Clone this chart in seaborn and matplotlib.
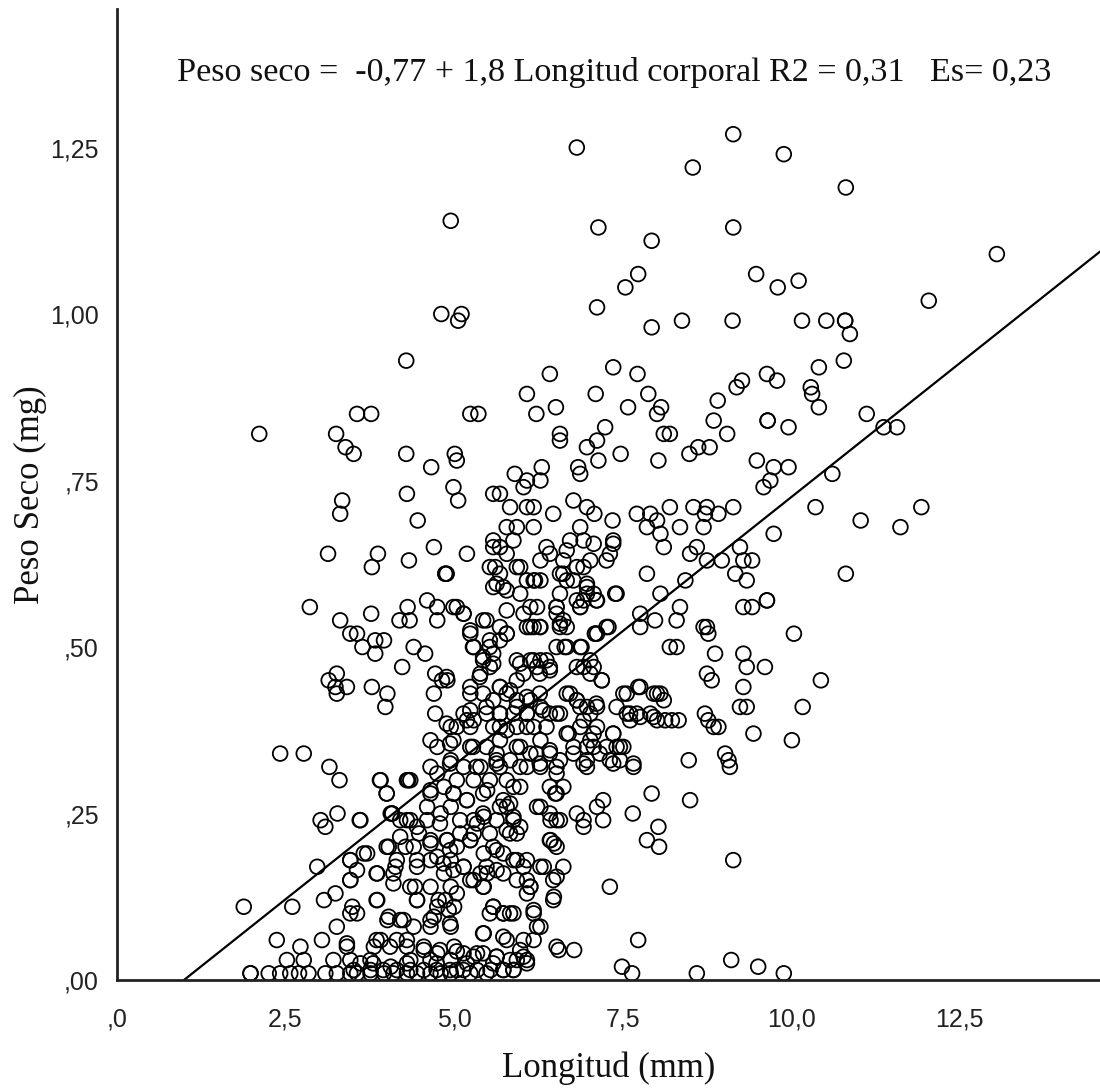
import numpy as np
import pandas as pd
import matplotlib
matplotlib.use("Agg")
import matplotlib.pyplot as plt
import seaborn as sns

# ---------------- data ----------------
# upper-left region
long_a = [4.95, 4.81, 5.06, 5.11, 4.29, 3.56, 3.77, 2.11, 3.25, 3.39, 3.51, 4.29, 4.66, 3.34, 3.31, 4.30, 4.46]
peso_a = [1.14, 1.00, 0.99, 1.00, 0.93, 0.85, 0.85, 0.82, 0.82, 0.80, 0.79, 0.79, 0.77, 0.72, 0.70, 0.73, 0.69]

# lower-left region
long_b = [3.13, 3.87, 3.78, 4.33, 4.70, 4.87, 4.87,
          2.86, 3.31, 3.77, 4.31, 4.60, 4.75, 4.19, 4.34, 4.75,
          3.46, 3.56, 3.64, 3.83, 3.96, 3.83, 4.40, 4.57, 4.23,
          3.14, 3.26, 3.41, 3.26, 3.24, 3.78, 4.01, 3.98,
          4.72, 4.82, 4.90, 4.70, 4.72, 4.95, 4.65, 4.75,
          2.42, 2.77, 3.15, 3.30, 3.91, 4.00, 4.35, 4.30, 4.65, 4.95, 4.75, 4.65, 4.85,
          3.02, 3.09, 3.27, 3.60, 4.06, 4.08, 4.20, 4.35, 4.60, 4.80, 4.95,
          4.48, 4.65, 4.90, 4.03, 4.28, 4.75, 3.66, 3.46, 2.97, 3.56, 4.15, 4.45, 4.95,
          3.46, 3.86, 4.10, 4.35, 4.65, 4.85, 4.95,
          3.07, 3.24, 2.60, 1.88, 3.49, 3.86, 4.45, 4.75, 4.87,
          3.56, 3.26, 4.01, 4.20, 4.40, 4.65, 4.95,
          2.37, 2.72, 3.04, 3.41, 3.81, 3.91, 4.15, 4.30, 4.55, 4.75,
          2.52, 2.77, 3.21, 3.46, 3.76, 4.06, 4.35, 4.65, 4.95,
          1.98, 1.98, 2.25, 2.42, 2.57, 2.70, 2.84, 3.09, 3.26, 3.46, 3.56, 3.76, 3.96, 4.10,
          4.30, 4.45, 4.65, 4.80, 4.95]
peso_b = [0.64, 0.64, 0.62, 0.63, 0.65, 0.61, 0.61,
          0.56, 0.54, 0.55, 0.56, 0.57, 0.56, 0.54, 0.54, 0.54,
          0.52, 0.52, 0.50, 0.51, 0.51, 0.49, 0.50, 0.49, 0.47,
          0.45, 0.46, 0.44, 0.43, 0.44, 0.44, 0.43, 0.41,
          0.46, 0.45, 0.45, 0.43, 0.40, 0.38, 0.36, 0.35,
          0.34, 0.34, 0.32, 0.30, 0.30, 0.28, 0.30, 0.30, 0.32, 0.33, 0.31, 0.28, 0.29,
          0.24, 0.23, 0.25, 0.24, 0.25, 0.25, 0.24, 0.24, 0.26, 0.25, 0.26,
          0.22, 0.21, 0.21, 0.20, 0.20, 0.185, 0.19, 0.18, 0.17, 0.165, 0.18, 0.17, 0.18,
          0.15, 0.16, 0.16, 0.14, 0.14, 0.16, 0.14,
          0.12, 0.13, 0.11, 0.11, 0.11, 0.12, 0.12, 0.11, 0.12,
          0.10, 0.08, 0.09, 0.09, 0.08, 0.09, 0.08,
          0.06, 0.05, 0.06, 0.05, 0.05, 0.06, 0.06, 0.05, 0.05, 0.04,
          0.03, 0.03, 0.03, 0.03, 0.03, 0.02, 0.03, 0.03, 0.03,
          0.01, 0.01, 0.01, 0.01, 0.01, 0.01, 0.01, 0.01, 0.01, 0.01, 0.01, 0.01, 0.01, 0.01,
          0.01, 0.01, 0.01, 0.01, 0.01]

# upper-middle region
long_c = [6.82, 9.14, 9.89, 8.54, 7.14, 9.14, 7.93, 7.73, 7.54, 9.48, 9.80, 7.12, 7.93, 8.38, 9.13,
          7.36, 6.42, 7.72, 6.08, 7.10, 7.88, 6.22, 6.51, 5.24, 5.36, 7.58, 8.07, 8.01,
          6.57, 6.57, 7.24, 6.97, 7.12, 7.47, 7.14, 8.11, 8.20, 8.03, 8.49, 8.62, 8.79, 8.85, 8.91,
          9.05, 9.19, 9.27, 9.64, 9.79, 9.65, 9.65, 9.96,
          9.49, 9.74, 9.69, 9.59, 9.96,
          5.01, 5.04, 4.99, 5.06,
          5.90, 6.30, 6.08, 6.28, 6.03, 5.58, 5.68, 5.83, 6.08, 6.18,
          6.84, 6.87, 6.77, 6.97, 7.08, 6.47, 7.35,
          5.78, 5.93, 6.18, 6.87,
          7.71, 7.91, 8.01, 8.20, 8.55, 8.75, 8.72, 8.92, 9.14,
          7.86, 8.06, 8.35, 8.70, 9.74,
          5.58, 5.88, 6.72, 6.92, 7.36]
peso_c = [1.25, 1.27, 1.24, 1.22, 1.13, 1.13, 1.11, 1.06, 1.04, 1.06, 1.04, 1.01, 0.98, 0.99, 0.99,
          0.92, 0.91, 0.91, 0.88, 0.88, 0.88, 0.85, 0.86, 0.85, 0.85, 0.86, 0.86, 0.85,
          0.82, 0.81, 0.83, 0.80, 0.81, 0.79, 0.78, 0.82, 0.82, 0.78, 0.79, 0.80, 0.80, 0.84, 0.87,
          0.82, 0.89, 0.90, 0.91, 0.90, 0.84, 0.84, 0.83,
          0.78, 0.77, 0.75, 0.74, 0.77,
          0.79, 0.78, 0.74, 0.72,
          0.76, 0.77, 0.75, 0.75, 0.74, 0.73, 0.73, 0.71, 0.71, 0.71,
          0.77, 0.76, 0.72, 0.71, 0.70, 0.70, 0.69,
          0.68, 0.68, 0.68, 0.68,
          0.70, 0.70, 0.69, 0.71, 0.71, 0.71, 0.70, 0.70, 0.71,
          0.68, 0.67, 0.68, 0.68, 0.67,
          0.66, 0.66, 0.66, 0.66, 0.66]

# lower-middle region, right part
long_d1 = [7.86, 8.11, 8.50, 8.60, 8.75, 8.97, 9.24, 9.29, 9.42, 9.17, 9.34, 9.64, 9.64, 9.29, 9.42,
           8.43, 8.06, 8.35, 8.30, 7.76, 7.98, 7.76, 7.41, 7.26, 7.09, 8.20, 8.30, 8.70, 8.75, 8.77,
           8.87, 9.29, 9.34, 9.61, 8.75, 8.82, 9.29, 9.24, 9.34, 9.44, 8.72, 8.77, 8.85, 8.92,
           8.48, 9.02, 9.07, 9.09, 8.50, 7.93, 7.65, 8.03, 7.86, 8.04, 9.14, 7.31, 7.73,
           6.52, 6.78, 7.49, 7.64, 8.60, 9.11, 9.51]
peso_d1 = [0.61, 0.65, 0.64, 0.65, 0.63, 0.63, 0.65, 0.63, 0.63, 0.61, 0.60, 0.57, 0.57, 0.56, 0.56,
           0.60, 0.58, 0.56, 0.54, 0.55, 0.54, 0.53, 0.58, 0.53, 0.52, 0.50, 0.50, 0.53, 0.53, 0.52,
           0.49, 0.49, 0.47, 0.47, 0.46, 0.45, 0.44, 0.41, 0.41, 0.37, 0.40, 0.39, 0.38, 0.38,
           0.33, 0.34, 0.33, 0.32, 0.27, 0.28, 0.25, 0.23, 0.21, 0.20, 0.18, 0.14, 0.06,
           0.05, 0.045, 0.02, 0.01, 0.01, 0.03, 0.02]

# lower-middle region, centre
long_d2 = [7.51, 7.73, 7.96, 8.06, 8.11, 7.41, 7.56, 7.71, 7.91, 8.01, 8.13, 8.23, 8.33, 7.61,
           7.36, 7.02, 7.07, 7.26, 7.41, 7.51, 7.31, 7.46, 7.66, 6.97, 6.97, 6.70, 7.12, 7.02,
           6.87, 6.67, 6.82, 6.57, 6.92, 7.12, 7.19, 7.07, 6.92, 6.67, 6.87, 7.12, 6.52, 7.02,
           6.57, 6.62, 6.52, 6.52, 6.57, 6.82, 6.97, 7.07, 6.87, 7.12, 6.97, 6.77, 6.57, 6.82,
           6.92, 7.02, 7.31, 7.36, 7.26, 7.07, 6.67, 6.62, 6.42, 6.28, 6.37]
peso_d2 = [0.43, 0.44, 0.43, 0.43, 0.42, 0.41, 0.40, 0.40, 0.40, 0.39, 0.39, 0.39, 0.39, 0.39,
           0.37, 0.36, 0.35, 0.35, 0.35, 0.35, 0.33, 0.33, 0.32, 0.33, 0.32, 0.37, 0.41, 0.40,
           0.41, 0.43, 0.42, 0.40, 0.39, 0.38, 0.45, 0.47, 0.47, 0.50, 0.50, 0.52, 0.50, 0.48,
           0.53, 0.54, 0.56, 0.55, 0.58, 0.57, 0.58, 0.58, 0.56, 0.57, 0.59, 0.60, 0.61, 0.62,
           0.62, 0.63, 0.64, 0.655, 0.63, 0.655, 0.645, 0.63, 0.64, 0.63, 0.65]

# lower-middle region, left part (densest)
long_d3 = [6.08, 6.18, 6.28, 6.13, 6.23, 6.08, 6.18, 6.28, 5.98, 5.93, 5.78, 5.58, 5.68, 5.53, 5.68,
           5.58, 5.73, 5.19, 5.04, 5.14, 5.48, 5.68, 5.78, 5.24, 5.29, 5.53, 5.68, 5.43, 5.58,
           5.39, 5.53, 5.93, 6.13, 6.28, 6.42, 6.03, 6.23, 5.93,
           5.24, 5.43, 5.68, 5.78, 5.58, 5.93, 6.13, 6.28, 6.42, 5.14, 5.29, 5.04, 5.24, 5.48,
           5.68, 5.88, 6.08, 5.68, 5.93, 6.18, 6.37, 6.28, 4.99, 5.24, 5.48, 5.68, 5.93, 6.13,
           6.42, 6.57, 6.77, 5.63, 5.83, 5.14, 5.39, 5.68, 6.08, 6.52, 6.28, 5.04, 5.29, 5.53,
           5.78, 5.98, 6.42, 6.52, 6.62, 4.99, 5.19, 5.43, 5.73, 5.78, 6.23, 6.42, 6.52, 6.82,
           6.92, 7.12, 7.21, 7.21, 6.92, 5.29, 5.43, 5.63, 5.88, 5.98, 5.09, 5.29, 5.53, 5.83,
           6.42, 6.52, 5.04, 5.24, 5.58, 5.73, 5.93, 6.08, 6.28, 6.62, 5.14, 5.39, 5.48, 5.73,
           5.93, 6.13, 6.47, 5.24, 5.43, 5.04, 6.08, 6.47, 5.58, 5.73, 5.83, 5.53, 6.18, 5.00,
           6.23, 5.43, 5.78, 6.03, 6.18, 5.00, 5.14, 5.29, 5.43, 5.63, 5.83, 6.03, 5.93, 6.08,
           5.04, 5.24, 5.48, 5.73, 5.88]
peso_d3 = [0.60, 0.60, 0.60, 0.56, 0.56, 0.53, 0.53, 0.53, 0.58, 0.62, 0.64, 0.65, 0.65, 0.62, 0.61,
           0.59, 0.59, 0.64, 0.56, 0.55, 0.54, 0.53, 0.52, 0.52, 0.50, 0.50, 0.51, 0.48, 0.49,
           0.46, 0.47, 0.48, 0.48, 0.48, 0.47, 0.46, 0.47, 0.45,
           0.43, 0.43, 0.44, 0.43, 0.42, 0.42, 0.42, 0.41, 0.40, 0.40, 0.39, 0.38, 0.38, 0.40,
           0.40, 0.40, 0.40, 0.38, 0.38, 0.38, 0.38, 0.36, 0.36, 0.35, 0.35, 0.36, 0.35, 0.34,
           0.34, 0.33, 0.34, 0.33, 0.33, 0.32, 0.32, 0.32, 0.32, 0.31, 0.32, 0.30, 0.30, 0.30,
           0.30, 0.29, 0.29, 0.28, 0.29, 0.28, 0.27, 0.28, 0.27, 0.26, 0.26, 0.25, 0.24, 0.25,
           0.24, 0.26, 0.27, 0.24, 0.23, 0.24, 0.25, 0.24, 0.24, 0.23, 0.22, 0.22, 0.22, 0.22,
           0.21, 0.20, 0.20, 0.21, 0.20, 0.19, 0.18, 0.18, 0.17, 0.17, 0.17, 0.16, 0.17, 0.16,
           0.15, 0.14, 0.15, 0.15, 0.14, 0.13, 0.13, 0.12, 0.11, 0.10, 0.10, 0.10, 0.10, 0.11,
           0.08, 0.07, 0.06, 0.06, 0.06, 0.05, 0.04, 0.035, 0.04, 0.035, 0.03, 0.035, 0.03, 0.025,
           0.015, 0.01, 0.01, 0.015, 0.015]

# dense lower cluster (extra detail)
long_f = [3.90, 4.32, 4.00, 4.65, 4.99, 5.19, 5.49, 5.88, 6.28, 6.50, 6.57, 6.43,
          4.08, 3.61, 4.30, 4.45, 4.60, 4.79, 5.09, 5.34, 5.44, 5.68, 5.83, 5.88, 5.78, 5.93,
          4.00, 4.20, 4.40, 4.65, 4.89, 4.94, 5.24, 5.44, 5.63, 5.88, 6.03, 6.33, 6.48, 6.43,
          3.46, 3.71, 3.85, 3.46, 4.13, 4.45, 4.65, 4.84, 4.99, 5.14, 5.29, 5.49, 5.44, 5.63,
          6.08, 6.13, 6.48, 6.52,
          4.10, 4.42, 3.85, 4.45, 4.77, 4.92, 3.46, 4.03, 4.25, 4.70, 4.94, 5.58, 5.73, 5.88,
          6.18, 6.28, 5.44, 5.73, 4.65,
          3.41, 3.85, 4.05, 4.30, 4.55, 4.79, 5.04, 5.34, 5.63, 5.98, 6.08, 6.55,
          3.51, 3.76, 3.95, 4.15, 4.35, 4.55, 4.74, 4.94, 5.14, 5.34, 5.54, 5.73, 5.88,
          3.61, 3.80, 4.30, 4.74, 5.19, 5.58]
peso_f = [0.30, 0.30, 0.28, 0.285, 0.28, 0.27, 0.285, 0.29, 0.26, 0.28, 0.24, 0.24,
          0.25, 0.24, 0.24, 0.23, 0.24, 0.235, 0.24, 0.235, 0.245, 0.26, 0.265, 0.245, 0.225, 0.22,
          0.20, 0.215, 0.20, 0.205, 0.21, 0.195, 0.21, 0.19, 0.195, 0.18, 0.17, 0.17, 0.205, 0.21,
          0.18, 0.19, 0.16, 0.15, 0.17, 0.18, 0.18, 0.175, 0.165, 0.17, 0.15, 0.16, 0.14, 0.165,
          0.15, 0.14, 0.125, 0.155,
          0.145, 0.14, 0.12, 0.12, 0.12, 0.105, 0.10, 0.095, 0.09, 0.095, 0.085, 0.11, 0.10, 0.10,
          0.105, 0.08, 0.07, 0.065, 0.08,
          0.055, 0.06, 0.05, 0.06, 0.045, 0.045, 0.043, 0.04, 0.035, 0.045, 0.03, 0.045,
          0.015, 0.015, 0.015, 0.015, 0.015, 0.015, 0.015, 0.015, 0.015, 0.015, 0.015, 0.015, 0.015,
          0.025, 0.025, 0.025, 0.025, 0.025, 0.025]

# dense central cluster (extra detail)
long_g = [4.89, 5.61, 5.98, 5.63, 5.78, 6.20, 6.62, 6.67, 6.97, 6.92, 7.11, 7.39,
          4.99, 5.14, 5.43, 5.78, 6.03, 6.13, 6.27, 6.52, 6.57, 6.67, 6.87,
          5.24, 5.28, 5.53, 5.78, 5.43, 5.58, 5.98, 6.18, 6.37, 6.27, 6.42, 6.64, 6.89, 7.09,
          7.29, 6.82, 7.02, 7.19,
          4.89, 5.24, 5.38, 5.68, 5.83, 6.08, 6.27, 6.72, 6.82, 6.97, 7.11, 7.56, 7.76, 8.01,
          5.24, 5.48, 5.68, 5.93, 6.08, 6.32, 6.52, 4.89, 5.19, 5.58, 5.78, 6.08, 6.67, 6.87,
          7.07, 7.36, 7.61, 7.76, 7.96,
          4.94, 5.28, 5.63, 5.98, 6.22, 6.42, 6.77, 6.97, 7.16, 7.46, 7.66, 4.94, 5.33, 5.63,
          5.98, 6.27, 6.52, 6.92, 7.36]
peso_g = [0.61, 0.62, 0.62, 0.595, 0.585, 0.60, 0.61, 0.60, 0.595, 0.57, 0.57, 0.58,
          0.56, 0.55, 0.54, 0.555, 0.55, 0.53, 0.53, 0.56, 0.535, 0.53, 0.56,
          0.525, 0.50, 0.51, 0.52, 0.485, 0.475, 0.475, 0.48, 0.48, 0.46, 0.465, 0.50, 0.50, 0.52,
          0.53, 0.47, 0.46, 0.45,
          0.455, 0.44, 0.455, 0.44, 0.435, 0.425, 0.43, 0.43, 0.42, 0.41, 0.415, 0.43, 0.44, 0.43,
          0.405, 0.41, 0.40, 0.41, 0.40, 0.405, 0.40, 0.385, 0.39, 0.38, 0.375, 0.38, 0.37, 0.38,
          0.37, 0.37, 0.40, 0.395, 0.395,
          0.355, 0.35, 0.34, 0.35, 0.34, 0.345, 0.35, 0.35, 0.34, 0.35, 0.325, 0.325, 0.32, 0.325,
          0.32, 0.325, 0.32, 0.325, 0.325]

# right region
long_e = [10.81, 13.05, 12.04, 10.11, 10.16, 10.52, 10.80, 10.80, 10.87, 10.41, 10.78, 10.29, 10.31,
          10.41, 11.12, 11.37, 11.57, 10.61, 10.36, 11.03, 11.62, 11.93,
          10.81, 10.04, 10.44, 10.17, 10.01, 9.89]
peso_e = [1.19, 1.09, 1.02, 1.05, 0.99, 0.99, 0.99, 0.99, 0.97, 0.92, 0.93, 0.89, 0.88,
          0.86, 0.85, 0.83, 0.83, 0.76, 0.71, 0.69, 0.68, 0.71,
          0.61, 0.52, 0.45, 0.41, 0.36, 0.01]

# fitted line (as drawn on the chart, in axis units)
fit_intercept = -0.080
fit_slope = 0.0805
annotation = "Peso seco =  -0,77 + 1,8 Longitud corporal R2 = 0,31   Es= 0,23"

x_ticks = [0.0, 2.5, 5.0, 7.5, 10.0, 12.5]
x_tick_labels = [",0", "2,5", "5,0", "7,5", "10,0", "12,5"]
y_ticks = [0.0, 0.25, 0.50, 0.75, 1.00, 1.25]
y_tick_labels = [",00", ",25", ",50", ",75", "1,00", "1,25"]
x_limits = (0.0, 14.58)
y_limits = (0.0, 1.458)

# ---------------- plotting ----------------
df = pd.DataFrame({
    "Longitud": long_a + long_b + long_c + long_d1 + long_d2 + long_d3 + long_f + long_g + long_e,
    "Peso": peso_a + peso_b + peso_c + peso_d1 + peso_d2 + peso_d3 + peso_f + peso_g + peso_e,
})

sns.set_theme(style="white")
plt.rcParams["font.family"] = ["Liberation Serif", "DejaVu Serif"]

fig = plt.figure(figsize=(11, 10.92), dpi=100)
ax = fig.add_axes([117 / 1100, 112 / 1092, 983 / 1100, 971 / 1092])

sns.scatterplot(data=df, x="Longitud", y="Peso", ax=ax, marker="o", s=112,
                facecolor="none", edgecolor="black", linewidth=1.3, legend=False, zorder=3)

x_start = -fit_intercept / fit_slope
line_df = pd.DataFrame({"x": [x_start, x_limits[1]]})
line_df["y"] = fit_intercept + fit_slope * line_df["x"]
sns.lineplot(data=line_df, x="x", y="y", ax=ax, color="black", linewidth=1.6, zorder=4)

ax.set_xlim(*x_limits)
ax.set_ylim(*y_limits)
ax.set_xticks(x_ticks)
ax.set_xticklabels(x_tick_labels, fontfamily=["Liberation Sans", "DejaVu Sans"], fontsize=18)
ax.set_yticks(y_ticks)
ax.set_yticklabels(y_tick_labels, fontfamily=["Liberation Sans", "DejaVu Sans"], fontsize=18)

for side in ["top", "right"]:
    ax.spines[side].set_visible(False)
for side in ["left", "bottom"]:
    ax.spines[side].set_linewidth(2.0)
    ax.spines[side].set_color("#222222")
    ax.spines[side].set_zorder(5)

ax.tick_params(axis="both", direction="out", length=11, width=1.8, color="#222222",
               labelcolor="#222222")
ax.tick_params(axis="x", pad=9)
ax.tick_params(axis="y", pad=2)

ax.set_xlabel("Longitud (mm)", fontsize=25, color="#111111")
ax.set_ylabel("Peso Seco (mg)", fontsize=25, color="#111111")
ax.xaxis.set_label_coords(0.5, -0.074)
ax.yaxis.set_label_coords(-0.071, 0.5)

fig.text(177 / 1100, 1 - 73 / 1092, annotation, fontsize=24.6, ha="left", va="center",
         color="#111111")

fig.savefig("out.png", dpi=100, facecolor="white")
